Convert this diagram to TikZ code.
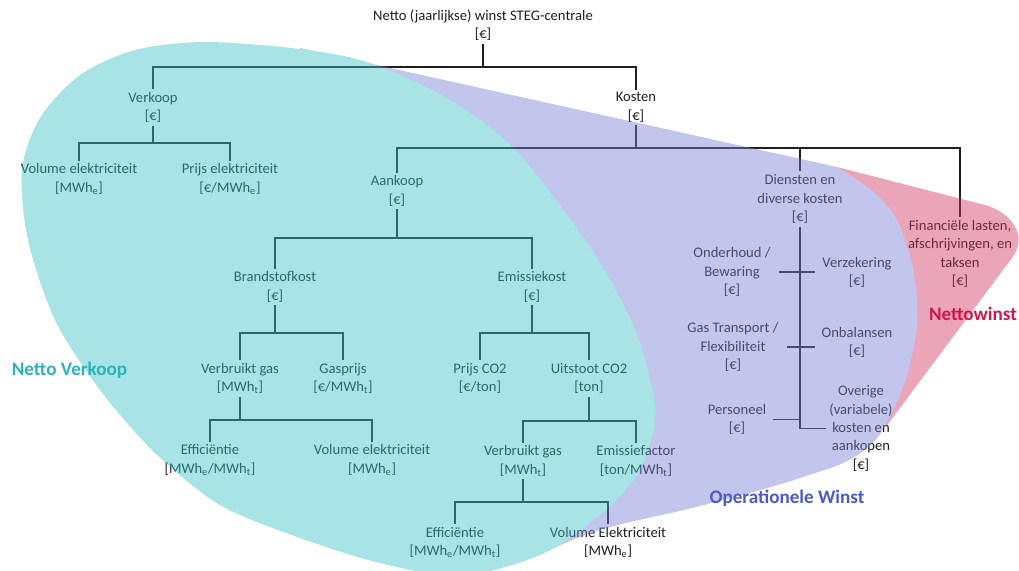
\documentclass[tikz,border=0pt]{standalone}
\usepackage{fontspec}
\setmainfont{Carlito}
\usetikzlibrary{calc}
\definecolor{boomtekst}{HTML}{1E1E1E}
\definecolor{tealvlak}{HTML}{3EC4C6}
\definecolor{paarsvlak}{HTML}{7A81D5}
\definecolor{rozevlak}{HTML}{D13862}
\definecolor{tealtekst}{HTML}{28B4B9}
\definecolor{paarstekst}{HTML}{4B5AC8}
\definecolor{rozetekst}{HTML}{D2144B}
\newcommand{\eenh}[1]{[#1]}
\newcommand{\MWhe}{MWh\textsubscript{e}}
\newcommand{\MWht}{MWh\textsubscript{t}}

\begin{document}
\begin{tikzpicture}[x=0.025cm, y=-0.025cm,
  every node/.style={font=\fontsize{10.4}{13.1}\selectfont},
  blok/.style={align=center, inner sep=2pt, text=boomtekst},
  tak/.style={draw=boomtekst, line width=0.9pt},
  gebied/.style={font=\fontsize{13.6}{16}\selectfont\bfseries}]
  \useasboundingbox (0,0) rectangle (1019,571);

  % boom: omzet
  \node[blok] (winst) at (483,25) {Netto (jaarlijkse) winst STEG-centrale\\\eenh{€}};
  \node[blok] (verkoop) at (153,107.5) {Verkoop\\\eenh{€}};
  \node[blok] (kosten) at (636,107.5) {Kosten\\\eenh{€}};
  \node[blok] (volel) at (79,179) {Volume elektriciteit\\\eenh{\MWhe}};
  \node[blok] (prel) at (230,179) {Prijs elektriciteit\\\eenh{€/\MWhe}};
  % boom: kosten
  \node[blok] (aankoop) at (397,191) {Aankoop\\\eenh{€}};
  \node[blok] (diensten) at (800,199) {Diensten en\\diverse kosten\\\eenh{€}};
  \node[blok] (financ) at (960,254) {Financiële lasten,\\afschrijvingen, en\\taksen\\\eenh{€}};
  \node[blok] (brandstof) at (275,287) {Brandstofkost\\\eenh{€}};
  \node[blok] (emissie) at (532,287) {Emissiekost\\\eenh{€}};
  \node[blok] (gasa) at (240,378.5) {Verbruikt gas\\\eenh{\MWht}};
  \node[blok] (gasprijs) at (343,378.5) {Gasprijs\\\eenh{€/\MWht}};
  \node[blok] (prijsco) at (480,378.5) {Prijs CO2\\\eenh{€/ton}};
  \node[blok] (uitstoot) at (589,378.5) {Uitstoot CO2\\\eenh{ton}};
  \node[blok] (effa) at (210,460) {Efficiëntie\\\eenh{\MWhe/\MWht}};
  \node[blok] (volelb) at (372,460) {Volume elektriciteit\\\eenh{\MWhe}};
  \node[blok] (gasb) at (523,461) {Verbruikt gas\\\eenh{\MWht}};
  \node[blok] (emfactor) at (636,461) {Emissiefactor\\\eenh{ton/\MWht}};
  \node[blok] (effb) at (455,542.5) {Efficiëntie\\\eenh{\MWhe/\MWht}};
  \node[blok] (volelc) at (608,542.5) {Volume Elektriciteit\\\eenh{\MWhe}};
  % diensten en diverse kosten
  \node[blok] (onderhoud) at (732,272) {Onderhoud /\\Bewaring\\\eenh{€}};
  \node[blok] (verzekering) at (857,272.5) {Verzekering\\\eenh{€}};
  \node[blok] (gastr) at (733,347) {Gas Transport /\\Flexibiliteit\\\eenh{€}};
  \node[blok] (onbal) at (857,342.5) {Onbalansen\\\eenh{€}};
  \node[blok] (personeel) at (737,419.5) {Personeel\\\eenh{€}};
  \node[blok] (overige) at (861,428.5) {Overige\\(variabele)\\kosten en\\aankopen\\\eenh{€}};

  % verbindingen
  \foreach \c in {verkoop,kosten} \draw[tak] (winst.south) -- (winst.south |- 0,67) -| (\c.north);
  \foreach \c in {volel,prel} \draw[tak] (verkoop.south) -- (verkoop.south |- 0,143) -| (\c.north);
  \foreach \c in {aankoop,diensten,financ} \draw[tak] (kosten.south) -- (kosten.south |- 0,148) -| (\c.north);
  \foreach \c in {brandstof,emissie} \draw[tak] (aankoop.south) -- (aankoop.south |- 0,238) -| (\c.north);
  \foreach \c in {gasa,gasprijs} \draw[tak] (brandstof.south) -- (brandstof.south |- 0,333) -| (\c.north);
  \foreach \c in {prijsco,uitstoot} \draw[tak] (emissie.south) -- (emissie.south |- 0,333) -| (\c.north);
  \foreach \c in {effa,volelb} \draw[tak] (gasa.south) -- (gasa.south |- 0,420) -| (\c.north);
  \foreach \c in {gasb,emfactor} \draw[tak] (uitstoot.south) -- (uitstoot.south |- 0,421) -| (\c.north);
  \foreach \c in {effb,volelc} \draw[tak] (gasb.south) -- (gasb.south |- 0,502) -| (\c.north);
  \draw[tak] (diensten.south) |- (overige.west);
  \draw[tak] ($(onderhoud.east)+(5,0)$) -- ($(verzekering.west |- onderhoud.east)+(-4,0)$);
  \draw[tak] ($(gastr.east)+(5,0)$) -- ($(onbal.west |- gastr.east)+(-4,0)$);
  \draw[tak] ($(personeel.east)+(4,0)$) -- (personeel.east -| diensten.south);

  % vlakken
  \begin{scope}[transparency group, opacity=0.45]
    \clip (0,0) rectangle (1019,571);
    \fill[rozevlak] (837,167) -- (985,205) .. controls (1008,211) and (1030,234) .. (1012,258) -- (885,428) -- (850,300) -- cycle;
    \fill[paarsvlak] (300,48) -- plot[smooth, tension=0.7] coordinates {(837,167) (882,200) (905,240) (917,300) (912,355) (893,410) (862,452) (800,478) (700,506) (600,530) (540,555)} -- (420,300) -- cycle;
    \fill[tealvlak] plot[smooth cycle] coordinates {(205,42) (300,49) (370,63) (450,100) (515,150) (590,247) (635,330) (655,410) (640,470) (600,515) (540,555) (460,576) (380,563) (300,538) (220,505) (155,453) (100,390) (55,320) (28,240) (22,170) (40,118) (80,75) (135,50)};
  \end{scope}

  % gebieden
  \node[gebied, text=tealtekst] (nettoverkoop) at (69.5,370) {Netto Verkoop};
  \node[gebied, text=paarstekst] (operationeel) at (787,498) {Operationele Winst};
  \node[gebied, text=rozetekst] (nettowinst) at (973,314) {Nettowinst};
\end{tikzpicture}
\end{document}
